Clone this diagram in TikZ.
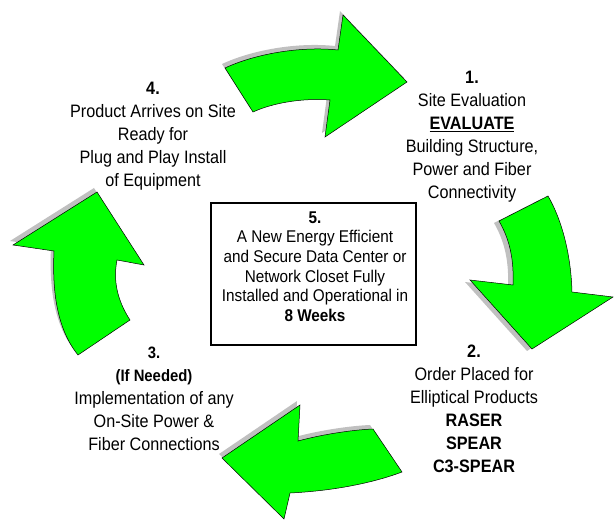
\documentclass[tikz,border=0pt]{standalone}
\usepackage{fontspec}
\setmainfont{Liberation Sans}[FakeStretch=0.9]
\definecolor{arrowgreen}{HTML}{00FF00}
\definecolor{shadowgray}{HTML}{C0C0C0}
\tikzset{
  arrowbody/.style={fill=arrowgreen, draw=black, line width=0.5pt, line join=miter},
  arrowshadow/.style={fill=shadowgray},
  lbl/.style={align=center, inner sep=0pt, font=\fontsize{18}{23}\selectfont},
  boxtxt/.style={align=center, inner sep=0pt, font=\fontsize{17}{19.7}\selectfont},
  centerbox/.style={draw=black, line width=1.4pt, inner sep=0pt, minimum width=205pt, minimum height=142pt},
}
\newcommand{\ArrTop}[1]{\path[#1] (225,68) .. controls (255,54) and (300,46) .. (338,50) -- (343,15) -- (407,82) -- (325,137) -- (330,100) .. controls (305,98) and (275,102) .. (253,112) -- cycle;}
\newcommand{\ArrRight}[1]{\path[#1] (548,196) .. controls (562,220) and (571,255) .. (572,292) -- (613,297) -- (532,349) -- (470,280) -- (513,285) .. controls (514,260) and (510,240) .. (499,221) -- cycle;}
\newcommand{\ArrBottom}[1]{\path[#1] (373,429) .. controls (350,430) and (320,435) .. (298,441) -- (300,405) -- (222,458) -- (284,519) -- (290,493) .. controls (330,491) and (370,484) .. (402,472) -- cycle;}
\newcommand{\ArrLeft}[1]{\path[#1] (78,355) .. controls (58,330) and (52,295) .. (54,251) -- (13,245) -- (97,192) -- (144,265) -- (117,260) .. controls (113,280) and (117,300) .. (130,320) -- cycle;}
\begin{document}
\begin{tikzpicture}[x=1pt, y=-1pt]
  \useasboundingbox (0,0) rectangle (616,521);
  % shadows
  \ArrTop{arrowshadow, shift={(-3,-4)}}
  \ArrRight{arrowshadow, shift={(-5,2)}}
  \ArrBottom{arrowshadow, shift={(-3,-4)}}
  \ArrLeft{arrowshadow, shift={(-3,-4)}}
  % arrows
  \ArrTop{arrowbody}
  \ArrRight{arrowbody}
  \ArrBottom{arrowbody}
  \ArrLeft{arrowbody}
  % labels
  \node[lbl] (step1) at (472,136.4) {\textbf{1.}\\ Site Evaluation\\ \underline{\textbf{EVALUATE}}\\ Building Structure,\\ Power and Fiber\\ Connectivity};
  \node[lbl] (step2) at (474,409) {\textbf{2.}\\ Order Placed for\\ Elliptical Products\\ \textbf{RASER}\\ \textbf{SPEAR}\\ \textbf{C3-SPEAR}};
  \node[lbl] (step3) at (154,399) {{\fontsize{16.5}{20}\selectfont\textbf{3.}}\\ {\fontsize{16.5}{20}\selectfont\textbf{(If Needed)}}\\ Implementation of any\\ On-Site Power \&\\ Fiber Connections};
  \node[lbl] (step4) at (153,136.4) {\textbf{4.}\\ Product Arrives on Site\\ Ready for\\ Plug and Play Install\\ of Equipment};
  \node[centerbox] (box) at (313.5,274) {};
  \node[boxtxt] (step5) at (315,266.5) {\textbf{5.}\\ A New Energy Efficient\\ and Secure Data Center or\\ Network Closet Fully\\ Installed and Operational in\\ \textbf{8 Weeks}};
\end{tikzpicture}
\end{document}
